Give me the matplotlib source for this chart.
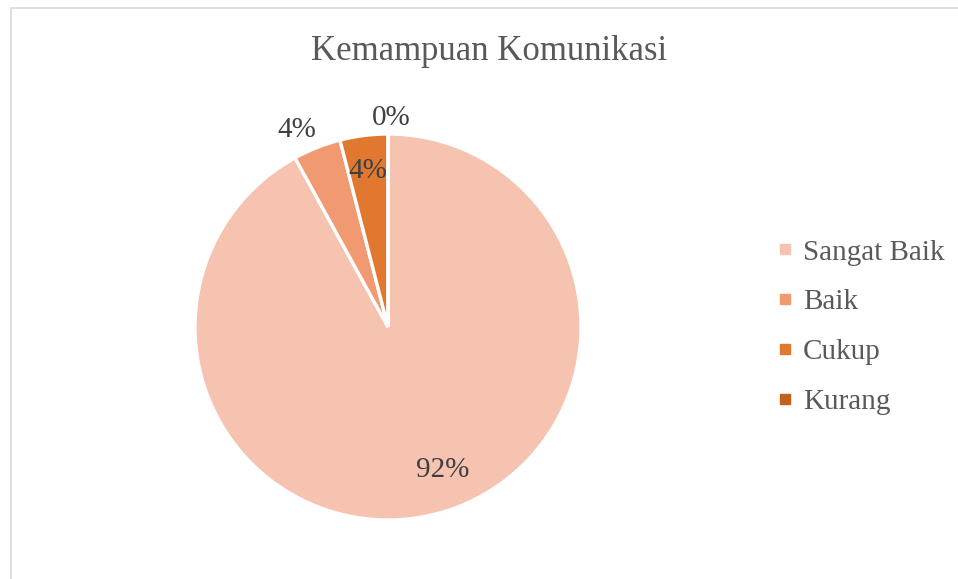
import numpy as np
import matplotlib
matplotlib.use("Agg")
import matplotlib.pyplot as plt
from matplotlib.lines import Line2D
from matplotlib.patches import Rectangle

title = "Kemampuan Komunikasi"
categories = ["Sangat Baik", "Baik", "Cukup", "Kurang"]
values = [92, 4, 4, 0]
colors = ["#F5C3B0", "#F19A72", "#E0782F", "#C2601D"]

# label placement, as fraction of radius (Excel "best fit" look)
label_dist = [0.78, 1.14, 0.83, 1.10]
label_shift = [7, 3, 0, -1]  # degrees nudge

plt.rcParams["font.family"] = ["Liberation Serif", "DejaVu Serif"]

W, H = 958, 579
fig = plt.figure(figsize=(W / 100, H / 100), dpi=100)

# chart area border (only left and top visible)
fig.patches.append(Rectangle((10.5 / W, -0.1), 1.2, 1.1 - 7.5 / H, transform=fig.transFigure,
                             fill=False, edgecolor="#D9D9D9", lw=1.2))

cx, cy, r = 388, 327, 193
ax = fig.add_axes([(cx - r) / W, (H - cy - r) / H, 2 * r / W, 2 * r / H])
wedges, _ = ax.pie(values, colors=colors, startangle=90, counterclock=False,
                   wedgeprops=dict(edgecolor="white", linewidth=2.4))
ax.set_xlim(-1, 1)
ax.set_ylim(-1, 1)
ax.set_aspect("equal")
ax.axis("off")

total = sum(values)
for w, v, d, s in zip(wedges, values, label_dist, label_shift):
    ang = np.deg2rad((w.theta1 + w.theta2) / 2 + s)
    ax.text(d * np.cos(ang), d * np.sin(ang), f"{v / total * 100:.0f}%",
            ha="center", va="center_baseline", fontsize=21, color="#404040")

fig.text(489 / W, 1 - 52 / H, title, ha="center", va="center", fontsize=25, color="#595959")

handles = [Line2D([], [], marker="s", linestyle="none", markersize=7.5,
                  markerfacecolor=c, markeredgecolor=c) for c in colors]
fig.legend(handles, categories, loc="center left", bbox_to_anchor=(765 / W, 1 - 327 / H),
           frameon=False, fontsize=21, labelcolor="#595959", handlelength=0.6,
           handletextpad=0.3, labelspacing=0.8, borderaxespad=0)

fig.savefig("out.png", dpi=100)
